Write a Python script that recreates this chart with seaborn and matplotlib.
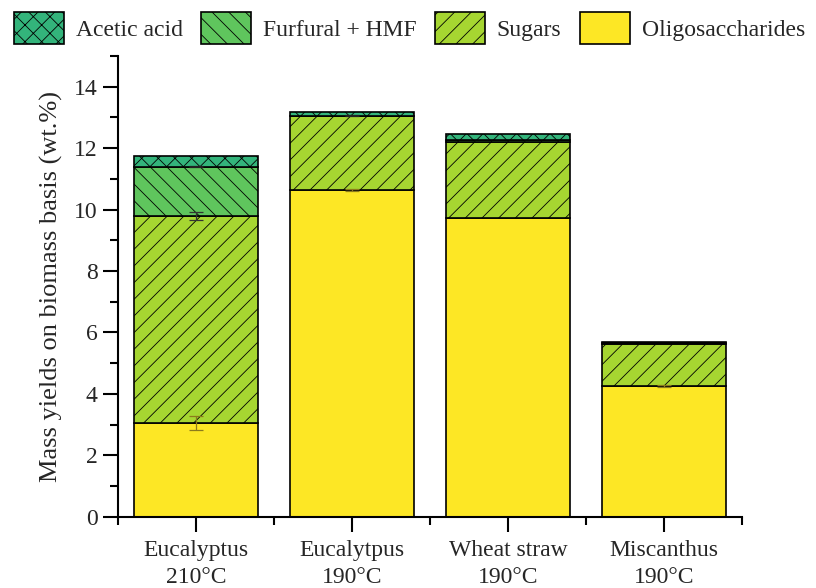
import numpy as np
import pandas as pd
import seaborn as sns
import matplotlib.pyplot as plt
from matplotlib.patches import Patch
from matplotlib.ticker import MultipleLocator, FixedLocator

categories = ["Eucalyptus\n210°C", "Eucalytpus\n190°C", "Wheat straw\n190°C", "Miscanthus\n190°C"]
series_names = ["Oligosaccharides", "Sugars", "Furfural + HMF", "Acetic acid"]
oligo = [3.05, 10.65, 9.74, 4.26]
sugars = [6.74, 2.41, 2.47, 1.36]
furfural = [1.61, 0.00, 0.05, 0.02]
acetic = [0.35, 0.10, 0.20, 0.06]
oligo_err = [0.23, 0.03, 0.0, 0.03]
sugars_err = [0.12, 0.0, 0.0, 0.0]
furfural_err = [0.02, 0.02, 0.0, 0.0]
acetic_err = [0.0, 0.0, 0.0, 0.0]

colors = ["#fde725", "#a6d631", "#5fc55d", "#33b47b"]
hatches = ["", "//", "\\\\", "xx"]
err_colors = ["#8c7a1c", "#333333", "#222222", "#222222"]

sns.set_style("ticks")
plt.rcParams["font.family"] = ["Liberation Serif", "DejaVu Serif"]
plt.rcParams["hatch.linewidth"] = 0.6

df = pd.DataFrame({"category": categories, "Oligosaccharides": oligo, "Sugars": sugars,
                   "Furfural + HMF": furfural, "Acetic acid": acetic})
errs = [oligo_err, sugars_err, furfural_err, acetic_err]

fig = plt.figure(figsize=(8.16, 5.88), dpi=100)
ax = fig.add_axes([0.1446, 0.1213, 0.7647, 0.7835])

bottom = np.zeros(len(categories))
for name, col, h, err, ec in zip(series_names, colors, hatches, errs, err_colors):
    vals = df[name].to_numpy()
    sns.barplot(data=df, x="category", y=name, color=col, bottom=bottom, hatch=h,
                edgecolor="black", linewidth=1.2, width=0.79, saturation=1, ax=ax)
    top = bottom + vals
    e = np.array(err)
    idx = np.nonzero(e)[0]
    if len(idx):
        ax.errorbar(idx, top[idx], yerr=e[idx], fmt="none", ecolor=ec,
                    elinewidth=0.9, capsize=4.7, capthick=0.9, zorder=5)
    bottom = top

ax.set_xlim(-0.5, 3.5)
ax.set_ylim(0, 15)
ax.yaxis.set_major_locator(MultipleLocator(2))
ax.yaxis.set_minor_locator(MultipleLocator(1))
ax.xaxis.set_minor_locator(FixedLocator([-0.5, 0.5, 1.5, 2.5, 3.5]))
ax.tick_params(axis="both", which="major", length=11, width=1.5, labelsize=17, direction="out", color="black")
ax.tick_params(axis="both", which="minor", length=6, width=1.5, direction="out", color="black")
ax.tick_params(axis="x", which="major", pad=6)
for lab in ax.get_xticklabels():
    lab.set_linespacing(1.35)
ax.set_xlabel("")
ax.set_ylabel("Mass yields on biomass basis (wt.%)", fontsize=19, labelpad=8)
sns.despine(ax=ax)
for s in ["left", "bottom"]:
    ax.spines[s].set_linewidth(1.5)
    ax.spines[s].set_color("black")

handles = [Patch(facecolor=c, edgecolor="black", hatch=h, linewidth=1.2)
           for c, h in zip(colors[::-1], hatches[::-1])]
fig.legend(handles, series_names[::-1], loc="center left", bbox_to_anchor=(0.0, 0.952),
           ncol=4, frameon=False, fontsize=17, handlelength=2.1, handleheight=1.7,
           columnspacing=0.8, handletextpad=0.5, borderaxespad=0.2)

fig.savefig("out.png", dpi=100)
